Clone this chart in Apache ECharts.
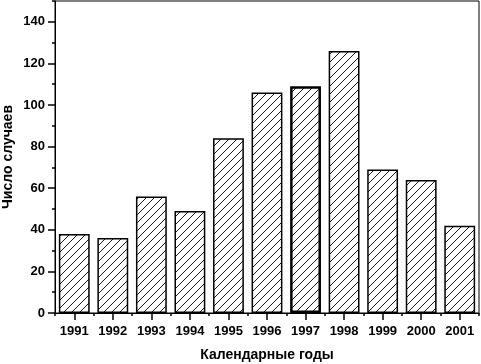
<!DOCTYPE html>
<html><head><meta charset="utf-8">
<script src="https://cdn.jsdelivr.net/npm/echarts@6/dist/echarts.min.js"></script>
<style>html,body{margin:0;padding:0;background:#fff}#c{width:481px;height:364px}</style>
</head><body><div id="c"></div>
<script>
const years = ['1991','1992','1993','1994','1995','1996','1997','1998','1999','2000','2001'];
const cases = [38, 36, 56, 49, 84, 106, 109, 126, 69, 64, 42];
const yMax = 150;
const yMajorMax = 140;
const yMajorStep = 20;
const yMinorStep = 10;
const xName = 'Календарные годы';
const yName = 'Число случаев';

const FONT = '"Liberation Sans", Arial, sans-serif';
// hatch pattern
const S = 8;
const pc = document.createElement('canvas');
pc.width = S; pc.height = S;
const g = pc.getContext('2d');
g.fillStyle = '#fff'; g.fillRect(0,0,S,S);
g.strokeStyle = '#000'; g.lineWidth = 0.9;
g.beginPath(); g.moveTo(-1,S+1); g.lineTo(S+1,-1); g.stroke();

const chart = echarts.init(document.getElementById('c'), null, {renderer:'canvas'});
const L = 55, T = 1, W = 424, H = 312;
chart.setOption({
  animation: false,
  backgroundColor: '#fff',
  grid: [
    {left: L, top: T, width: W, height: H, show: true, borderColor: '#000', borderWidth: 1,
     backgroundColor: 'transparent', outerBoundsMode: 'none', containLabel: false},
    {left: L, top: T + H * (yMax - yMajorMax) / yMax, width: W, height: H * yMajorMax / yMax,
     outerBoundsMode: 'none', containLabel: false}
  ],
  xAxis: [
    {type: 'category', gridIndex: 0, data: years, position: 'bottom',
     axisLine: {show: true, lineStyle: {color: '#000', width: 1}},
     axisTick: {show: true, alignWithLabel: true, length: 7, lineStyle: {color: '#000', width: 1.5}},
     axisLabel: {color: '#000', fontFamily: FONT, fontWeight: 'bold', fontSize: 13, margin: 12},
     name: xName, nameLocation: 'middle', nameGap: 35,
     nameTextStyle: {color: '#000', fontFamily: FONT, fontWeight: 'bold', fontSize: 14}},
    {type: 'category', gridIndex: 0, data: years, position: 'bottom', offset: 0,
     axisLine: {show: false},
     axisTick: {show: true, length: 3, lineStyle: {color: '#000', width: 1.5}},
     axisLabel: {show: false}},
    {type: 'category', gridIndex: 1, data: years, show: false}
  ],
  yAxis: [
    {type: 'value', gridIndex: 0, min: 0, max: yMax, interval: yMinorStep, position: 'left',
     axisLine: {show: true, lineStyle: {color: '#000', width: 1}},
     axisTick: {show: true, length: 3, lineStyle: {color: '#000', width: 1.5}},
     axisLabel: {show: false}, splitLine: {show: false},
     name: yName, nameLocation: 'middle', nameGap: 40, nameRotate: 90,
     nameTextStyle: {color: '#000', fontFamily: FONT, fontWeight: 'bold', fontSize: 14}},
    {type: 'value', gridIndex: 1, min: 0, max: yMajorMax, interval: yMajorStep, position: 'left',
     axisLine: {show: false},
     axisTick: {show: true, length: 7, lineStyle: {color: '#000', width: 1.5}},
     axisLabel: {color: '#000', fontFamily: FONT, fontWeight: 'bold', fontSize: 13, margin: 10},
     splitLine: {show: false}}
  ],
  series: [{
    type: 'bar', xAxisIndex: 0, yAxisIndex: 0,
    data: cases.map((v, i) => years[i] === '1997'
      ? {value: v, itemStyle: {borderWidth: 2.5}} : v),
    barCategoryGap: '20%',
    itemStyle: {color: {image: pc, repeat: 'repeat'}, borderColor: '#000', borderWidth: 1.5}
  }]
});
</script></body></html>
